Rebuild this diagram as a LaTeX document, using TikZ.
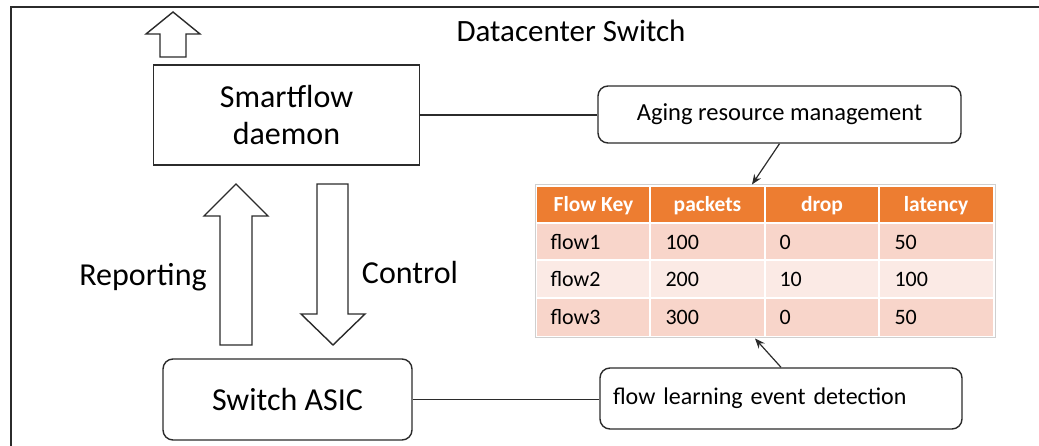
\documentclass[tikz,border=0pt]{standalone}
\usepackage{fontspec}
\setmainfont{Carlito}
\usetikzlibrary{arrows.meta}
\definecolor{ink}{HTML}{2B2B2B}
\definecolor{hdr}{HTML}{ED7D31}
\definecolor{rowA}{HTML}{F8D5CA}
\definecolor{rowB}{HTML}{FBEAE5}
\definecolor{tblframe}{HTML}{CFCFCF}
\tikzset{
  box/.style={draw=ink, line width=1.4pt, inner sep=0pt},
  roundbox/.style={box, rounded corners=10pt},
  blockarrow/.style={draw=ink, line width=1.4pt, fill=white, line join=miter},
  link/.style={draw=ink, line width=1.2pt},
  pointer/.style={draw=ink, line width=1.2pt, -{Stealth[length=10pt,width=8pt]}},
  hcell/.style={text=white, font=\fontsize{21.5}{25}\selectfont\bfseries, anchor=center},
  bcell/.style={text=black, font=\fontsize{22}{25}\selectfont, anchor=west},
}
\begin{document}
\begin{tikzpicture}[x=1pt, y=-1pt]
\useasboundingbox (0,0) rectangle (1039,446);

% switch enclosure (open to the right and below)
\draw[draw=ink, line width=1.8pt] (11,446) -- (11,7) -- (1039,7);
\node[font=\fontsize{31}{35}\selectfont, anchor=center] (title) at (571,31) {Datacenter Switch};

% upward block arrow above the daemon
\draw[blockarrow] (173,12) -- (200,34) -- (186,34) -- (186,57) -- (160,57) -- (160,34) -- (146,34) -- cycle;

% daemon and ASIC
\node[box, minimum width=266pt, minimum height=100pt, align=center,
      font=\fontsize{32}{37}\selectfont] (sd) at (286.5,115) {Smartflow\\daemon};
\node[roundbox, minimum width=249pt, minimum height=81pt,
      font=\fontsize{32}{36}\selectfont] (asic) at (287.5,399.5) {Switch ASIC};

% reporting / control block arrows
\draw[blockarrow] (236,184) -- (268,216) -- (252,216) -- (252,345) -- (220,345) -- (220,216) -- (204,216) -- cycle;
\draw[blockarrow] (333,345) -- (365,314) -- (348,314) -- (348,184) -- (317,184) -- (317,314) -- (301,314) -- cycle;
\node[font=\fontsize{32}{36}\selectfont] (rep) at (143,277) {Reporting};
\node[font=\fontsize{32}{36}\selectfont] (ctl) at (410,273) {Control};

% side function boxes
\node[roundbox, minimum width=363pt, minimum height=57pt,
      font=\fontsize{24.5}{28}\selectfont] (aging) at (779.5,114.5) {Aging resource management};
\node[roundbox, minimum width=362pt, minimum height=61pt, text width=336pt, align=left,
      font=\fontsize{24}{28}\selectfont] (learn) at (781,398.5) {flow learning event detection};

\draw[link] (sd.east) -- (sd.east -| aging.west);
\draw[link] (asic.east) -- (asic.east -| learn.west);

% flow table
\node[draw=tblframe, line width=1pt, minimum width=460pt, minimum height=153pt, inner sep=0pt] (tbl) at (765,261.5) {};
\fill[hdr] (537,187) rectangle (993,223);
\fill[rowA] (537,223) rectangle (993,260);
\fill[rowB] (537,260) rectangle (993,298);
\fill[rowA] (537,298) rectangle (993,336);
\foreach \yy in {223,260,298} \draw[white, line width=2pt] (537,\yy) -- (993,\yy);
\foreach \xx in {650,765,879} \draw[white, line width=2pt] (\xx,187) -- (\xx,336);

\node[hcell] (h1) at (593.5,206) {Flow Key};
\node[hcell] (h2) at (707.5,206) {packets};
\node[hcell] (h3) at (822,206) {drop};
\node[hcell] (h4) at (936,206) {latency};

\node[bcell] (a1) at (547,242) {flow1};
\node[bcell] (a2) at (662,242) {100};
\node[bcell] (a3) at (776,242) {0};
\node[bcell] (a4) at (891,242) {50};
\node[bcell] (b1) at (547,279.5) {flow2};
\node[bcell] (b2) at (662,279.5) {200};
\node[bcell] (b3) at (776,279.5) {10};
\node[bcell] (b4) at (891,279.5) {100};
\node[bcell] (c1) at (547,317.5) {flow3};
\node[bcell] (c2) at (662,317.5) {300};
\node[bcell] (c3) at (776,317.5) {0};
\node[bcell] (c4) at (891,317.5) {50};

% management and learning paths into the table
\draw[pointer] (aging.south) -- ([xshift=-13pt]tbl.north);
\draw[pointer] (learn.north) -- ([xshift=-10pt]tbl.south);
\end{tikzpicture}
\end{document}
